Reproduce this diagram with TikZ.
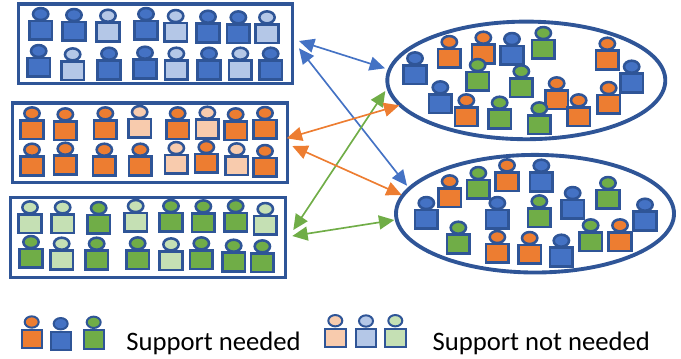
\documentclass[tikz,border=0pt]{standalone}
\usepackage{fontspec}
\setmainfont{Carlito}
\usetikzlibrary{shapes.geometric,arrows.meta}
\definecolor{edgeblue}{HTML}{2F5597}
\definecolor{bluedark}{HTML}{4472C4}
\definecolor{orangedark}{HTML}{ED7D31}
\definecolor{greendark}{HTML}{70AD47}
\definecolor{bluelight}{HTML}{B4C7E7}
\definecolor{orangelight}{HTML}{F8CBAD}
\definecolor{greenlight}{HTML}{C5E0B4}
\tikzset{
  bd/.style={fill=bluedark}, bl/.style={fill=bluelight},
  od/.style={fill=orangedark}, ol/.style={fill=orangelight},
  gd/.style={fill=greendark}, gl/.style={fill=greenlight},
  torso/.style={draw=edgeblue,line width=1.9pt,rectangle,minimum width=17pt,minimum height=14pt,inner sep=0pt,outer sep=0pt},
  headpart/.style={draw=edgeblue,line width=1.9pt,ellipse,minimum width=11.5pt,minimum height=9pt,inner sep=0pt,outer sep=0pt},
  keytorso/.style={draw=edgeblue,line width=1.5pt,rectangle,minimum width=15.3pt,minimum height=13.8pt,inner sep=0pt,outer sep=0pt},
  keyhead/.style={draw=edgeblue,line width=1.5pt,ellipse,minimum width=10.5pt,minimum height=8.5pt,inner sep=0pt,outer sep=0pt},
  frame/.style={draw=edgeblue,line width=2.6pt,rectangle,inner sep=0pt,outer sep=0pt},
  pool/.style={draw=edgeblue,line width=2.9pt,ellipse,inner sep=0pt,outer sep=0pt,minimum width=208.5pt,minimum height=88.2pt},
  link/.style={line width=1.25pt,{Triangle[length=11.5pt,width=10.5pt]}-{Triangle[length=11.5pt,width=10.5pt]}},
  keytext/.style={anchor=base west,font=\fontsize{20pt}{24pt}\selectfont,text=black,inner sep=0pt},
}
\newcommand{\onefigure}[4]{%
  \node[headpart,#4] (#1h) at (#2,#3-16.3) {};
  \node[torso,#4] (#1b) at (#2,#3) {};
}
\newcommand{\keyfigure}[4]{%
  \node[keyhead,#4] (#1h) at (#2,#3-17) {};
  \node[keytorso,#4] (#1b) at (#2,#3) {};
}
\newcommand{\crowd}[4]{%
  \foreach \a/\b/\s [count=\i] in {#4} {%
    \onefigure{#1\i}{#2+\a/3}{#3+\b/3}{\s}
  }
}
\begin{document}
\begin{tikzpicture}[x=0.75pt,y=-0.75pt]
\useasboundingbox (0,0) rectangle (681,358);
% frames
\node[frame,minimum width=205.8pt,minimum height=59.5pt] (frameA) at (155.5,43.6) {};
\node[frame,minimum width=206.2pt,minimum height=59.8pt] (frameB) at (149.8,142.8) {};
\node[frame,minimum width=206.5pt,minimum height=60pt] (frameC) at (148,237.3) {};
% pools
\node[pool] (poolA) at (526.3,80.4) {};
\node[pool] (poolB) at (535,213.7) {};
% people in frames
\crowd{a}{0}{0}{122/91/bd,222/94/bd,324/96/bl,438/91/bd,527/97/bl,624/99/bd,715/101/bd,801/101/bl,
116/202/bd,218/212/bl,327/210/bd,435/207/bd,529/210/bl,627/210/bd,721/210/bl,812/210/bd}
\crowd{b}{0}{95}{96/104/od,196/107/od,316/104/od,419/100/ol,533/104/od,622/102/ol,707/107/od,795/103/od,
96/213/od,196/210/od,313/213/od,421/213/od,529/208/ol,619/205/od,710/212/ol,795/217/od}
\crowd{c}{0}{190}{90/101/gl,188/101/gl,296/103/gd,407/97/gl,513/97/gd,610/98/gd,707/97/gd,796/106/gl,
93/205/gd,185/210/gl,290/210/gd,413/209/gd,513/212/gl,604/209/gd,701/216/gd,787/218/gd}
% people in pools
\crowd{d}{380}{15}{105/179/bd,208/130/od,310/117/od,396/121/bd,490/103/gd,682/135/od,755/204/bd,293/199/gd,424/218/gd,181/266/bd,259/305/od,359/312/gd,530/254/od,478/329/gd,596/305/od,686/268/od}
\crowd{e}{380}{150}{139/208/bd,209/143/od,295/118/gd,381/95/od,484/96/bd,352/208/bd,478/203/gd,578/178/bd,684/148/gd,795/213/bd,235/282/gd,352/310/od,449/313/od,544/321/bd,632/275/gd,720/275/od}
% connector ends
\coordinate (p1) at (299,41);
\coordinate (q1) at (385,68.3);
\coordinate (p2) at (299,48.3);
\coordinate (q2) at (407,185.7);
\coordinate (p3) at (286.7,138.3);
\coordinate (q3) at (399.3,105.3);
\coordinate (p4) at (292.3,146);
\coordinate (q4) at (401.7,195);
\coordinate (p5) at (293.3,230);
\coordinate (q5) at (385.3,91);
\coordinate (p6) at (292.3,236);
\coordinate (q6) at (394.3,220);
\draw[link,draw=bluedark,fill=bluedark] (p1) -- (q1);
\draw[link,draw=bluedark,fill=bluedark] (p2) -- (q2);
\draw[link,draw=greendark,fill=greendark] (p5) -- (q5);
\draw[link,draw=greendark,fill=greendark] (p6) -- (q6);
\draw[link,draw=orangedark,fill=orangedark] (p3) -- (q3);
\draw[link,draw=orangedark,fill=orangedark] (p4) -- (q4);
% legend
\keyfigure{k1}{31.7}{339}{od}
\keyfigure{k2}{60.7}{340.7}{bd}
\keyfigure{k3}{93.7}{339.3}{gd}
\keyfigure{k4}{335.3}{337.7}{ol}
\keyfigure{k5}{366}{338}{bl}
\keyfigure{k6}{395.3}{337.7}{gl}
\node[keytext] (needed) at (126,350.7) {Support needed};
\node[keytext] (notneeded) at (432.3,350.7) {Support not needed};
\end{tikzpicture}
\end{document}
